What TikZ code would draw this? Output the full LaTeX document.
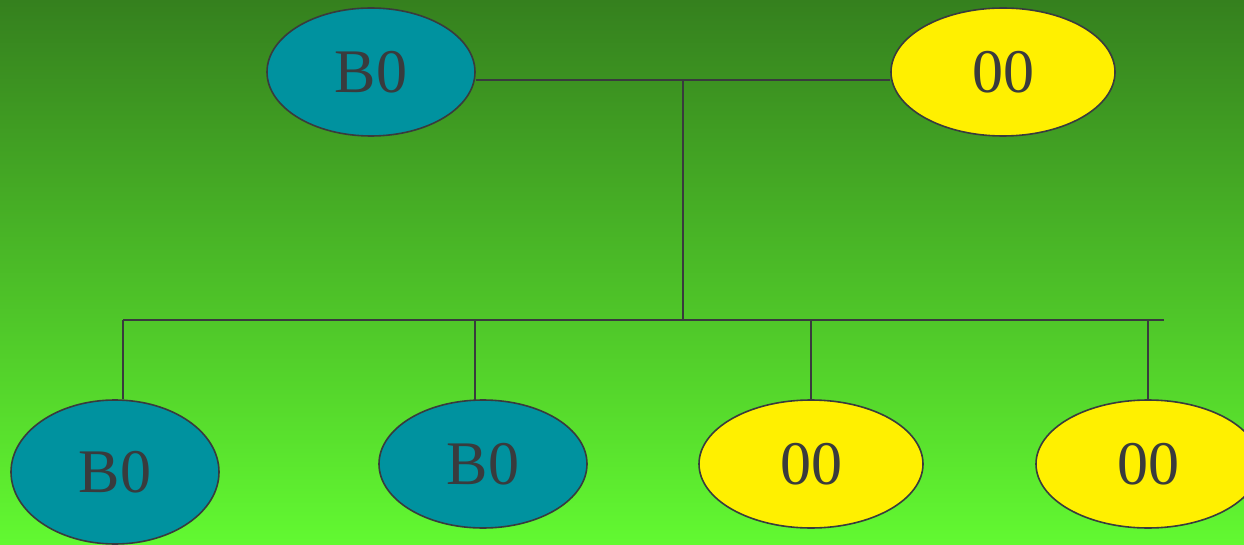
\documentclass[tikz,border=0pt]{standalone}
\usepackage{fontspec}
\setmainfont{Liberation Serif}
\usetikzlibrary{shapes.geometric}
\definecolor{bgtop}{HTML}{35801E}
\definecolor{bgbot}{HTML}{62F931}
\definecolor{tealfill}{HTML}{00929F}
\definecolor{yelfill}{HTML}{FFF000}
\definecolor{ink}{HTML}{393B3D}
\tikzset{
  elbox/.style={ellipse, draw=ink, line width=1.6pt, inner sep=0pt, text=ink, font=\fontsize{62}{62}\selectfont},
  bnode/.style={elbox, fill=tealfill, minimum width=208pt, minimum height=128pt},
  ynode/.style={elbox, fill=yelfill, minimum width=224pt, minimum height=128pt},
  conn/.style={draw=ink, line width=1.6pt}
}
\begin{document}
\begin{tikzpicture}[x=1pt,y=-1pt]
\useasboundingbox (0,0) rectangle (1244,545);
\shade[top color=bgtop, bottom color=bgbot] (0,0) rectangle (1244,545);
\clip (0,0) rectangle (1244,545);
\node[bnode] (t1) at (371,72) {B0};
\node[ynode] (t2) at (1003,72) {00};
\node[bnode, minimum height=144pt] (b1) at (115,472) {B0};
\node[bnode] (b2) at (483,464) {B0};
\node[ynode] (b3) at (811,464) {00};
\node[ynode] (b4) at (1148,464) {00};
\coordinate (j) at (683,80);
\coordinate (barL) at (123,320);
\coordinate (barM) at (683,320);
\coordinate (barR) at (1164,320);
\draw[conn] (t1.east |- j) -- (t2.west |- j);
\draw[conn] (j) -- (barM);
\draw[conn] (barL) -- (barR);
\draw[conn] (barL) -- (barL |- b1.north);
\draw[conn] (475,320) -- (475,400);
\draw[conn] (b3.north |- barL) -- (b3.north);
\draw[conn] (b4.north |- barL) -- (b4.north);
\end{tikzpicture}
\end{document}
